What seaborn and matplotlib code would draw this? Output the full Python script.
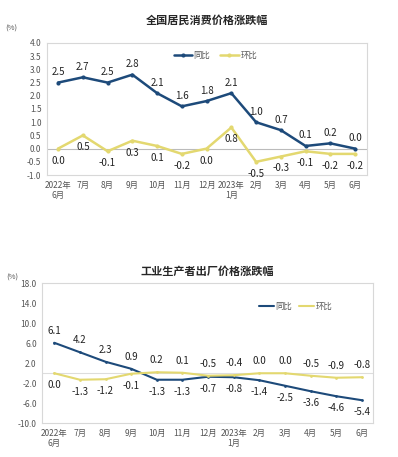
import pandas as pd
import matplotlib
matplotlib.use("Agg")
import matplotlib.pyplot as plt
import seaborn as sns

sns.set_style("white")
plt.rcParams['font.family'] = ['Noto Sans CJK SC', 'DejaVu Sans']

months = ["2022年\n6月", "7月", "8月", "9月", "10月", "11月", "12月",
          "2023年\n1月", "2月", "3月", "4月", "5月", "6月"]

cpi_yoy = [2.5, 2.7, 2.5, 2.8, 2.1, 1.6, 1.8, 2.1, 1.0, 0.7, 0.1, 0.2, 0.0]
cpi_mom = [0.0, 0.5, -0.1, 0.3, 0.1, -0.2, 0.0, 0.8, -0.5, -0.3, -0.1, -0.2, -0.2]

ppi_yoy = [6.1, 4.2, 2.3, 0.9, -1.3, -1.3, -0.7, -0.8, -1.4, -2.5, -3.6, -4.6, -5.4]
ppi_mom = [0.0, -1.3, -1.2, -0.1, 0.2, 0.1, -0.5, -0.4, 0.0, 0.0, -0.5, -0.9, -0.8]

blue = "#1d4a7a"
yellow = "#e3d870"
tick_color = "#555555"


def make_df(yoy, mom):
    x = list(range(len(months)))
    return pd.concat([
        pd.DataFrame({"x": x, "val": yoy, "series": "同比"}),
        pd.DataFrame({"x": x, "val": mom, "series": "环比"}),
    ])


fig = plt.figure(figsize=(3.98, 4.57), dpi=100)

# ---- top chart: CPI ----
ax1 = fig.add_axes([0.118, 0.617, 0.804, 0.289])
df1 = make_df(cpi_yoy, cpi_mom)
sns.lineplot(data=df1, x="x", y="val", hue="series", palette=[blue, yellow],
             marker="o", markersize=3, markeredgewidth=0, linewidth=1.8, ax=ax1)
ax1.axhline(0, color="#bbbbbb", linewidth=0.8, zorder=0)
ax1.set_xlim(-0.45, 12.48)
ax1.set_ylim(-1.0, 4.0)
ax1.set_yticks([-1.0 + 0.5 * i for i in range(11)])
ax1.set_yticklabels([f"{-1.0 + 0.5 * i:.1f}" for i in range(11)])
for i, v in enumerate(cpi_yoy):
    ax1.annotate(f"{v:.1f}", (i, v), xytext=(0, 4), textcoords="offset points",
                 ha="center", va="bottom", fontsize=7, color="#222222")
for i, v in enumerate(cpi_mom):
    ax1.annotate(f"{v:.1f}", (i, v), xytext=(0, -5), textcoords="offset points",
                 ha="center", va="top", fontsize=7, color="#222222")
ax1.set_title("全国居民消费价格涨跌幅", fontsize=8, fontweight="bold", pad=14)
ax1.text(-0.13, 1.09, "(%)", transform=ax1.transAxes, fontsize=5.5, color=tick_color)
leg1 = ax1.legend(loc="upper right", bbox_to_anchor=(0.68, 1.0), ncol=2, frameon=False,
                  fontsize=6, handlelength=2.2, columnspacing=1.2, handletextpad=0.2)
for t in leg1.get_texts():
    t.set_color(tick_color)

# ---- bottom chart: PPI ----
ax2 = fig.add_axes([0.106, 0.074, 0.831, 0.306])
df2 = make_df(ppi_yoy, ppi_mom)
sns.lineplot(data=df2, x="x", y="val", hue="series", palette=[blue, yellow],
             marker="o", markersize=2, markeredgewidth=0, linewidth=1.5, ax=ax2)
ax2.axhline(0, color="#dddddd", linewidth=0.8, zorder=0)
ax2.set_xlim(-0.47, 12.43)
ax2.set_ylim(-10.0, 18.0)
ax2.set_yticks([-10.0 + 4 * i for i in range(8)])
ax2.set_yticklabels([f"{-10.0 + 4 * i:.1f}" for i in range(8)])
for i, (a, b) in enumerate(zip(ppi_yoy, ppi_mom)):
    yoy_above = a > b
    ax2.annotate(f"{a:.1f}", (i, a), xytext=(0, 5 if yoy_above else -5),
                 textcoords="offset points", ha="center",
                 va="bottom" if yoy_above else "top", fontsize=7, color="#222222")
    ax2.annotate(f"{b:.1f}", (i, b), xytext=(0, -5 if yoy_above else 5),
                 textcoords="offset points", ha="center",
                 va="top" if yoy_above else "bottom", fontsize=7, color="#222222")
ax2.set_title("工业生产者出厂价格涨跌幅", fontsize=8, fontweight="bold", pad=6)
ax2.text(-0.11, 1.03, "(%)", transform=ax2.transAxes, fontsize=5.5, color=tick_color)
leg2 = ax2.legend(loc="upper right", bbox_to_anchor=(0.9, 0.92), ncol=2, frameon=False,
                  fontsize=6, handlelength=1.8, columnspacing=0.8, handletextpad=0.2)
for t in leg2.get_texts():
    t.set_color(tick_color)
for h in leg2.legend_handles:
    h.set_marker("")

for ax in (ax1, ax2):
    ax.set_xticks(range(len(months)))
    ax.set_xticklabels(months)
    ax.set_xlabel("")
    ax.set_ylabel("")
    ax.tick_params(axis="both", labelsize=6, colors=tick_color, length=0, pad=4)
    for s in ax.spines.values():
        s.set_color("#d8d8d8")
        s.set_linewidth(0.8)

fig.savefig("out.png", dpi=100)
